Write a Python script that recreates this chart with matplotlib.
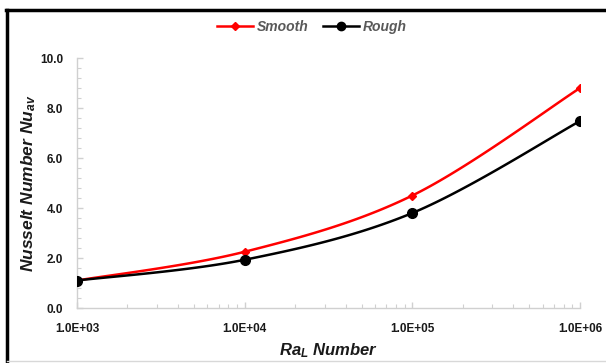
import numpy as np
import matplotlib
matplotlib.use("Agg")
import matplotlib.pyplot as plt
from matplotlib.lines import Line2D
from matplotlib.ticker import FixedLocator, NullFormatter, MultipleLocator

ra = [1e3, 1e4, 1e5, 1e6]
smooth = [1.10, 2.25, 4.50, 8.80]
rough = [1.10, 1.93, 3.80, 7.48]
xtick_labels = ["1.0E+03", "1.0E+04", "1.0E+05", "1.0E+06"]
yticks = [0, 2, 4, 6, 8, 10]

plt.rcParams['font.family'] = ['Liberation Sans', 'DejaVu Sans']
plt.rcParams['mathtext.fontset'] = 'custom'
plt.rcParams['mathtext.bfit'] = 'Liberation Sans:bold:italic'
plt.rcParams['mathtext.it'] = 'Liberation Sans:bold:italic'
plt.rcParams['mathtext.rm'] = 'Liberation Sans:bold:italic'


def smooth_curve(x, y, n=40):
    # Excel-like smoothed line: Catmull-Rom style Bezier in log-x space
    lx = np.log10(np.asarray(x, float))
    y = np.asarray(y, float)
    pts = np.column_stack([lx, y])
    out = []
    for i in range(len(pts) - 1):
        p0 = pts[i - 1] if i > 0 else pts[i]
        p1 = pts[i]
        p2 = pts[i + 1]
        p3 = pts[i + 2] if i + 2 < len(pts) else pts[i + 1]
        c1 = p1 + (p2 - p0) / 6.0
        c2 = p2 - (p3 - p1) / 6.0
        t = np.linspace(0, 1, n)[:, None]
        seg = ((1 - t) ** 3) * p1 + 3 * ((1 - t) ** 2) * t * c1 + 3 * (1 - t) * t ** 2 * c2 + t ** 3 * p2
        out.append(seg if i == 0 else seg[1:])
    out = np.vstack(out)
    return 10 ** out[:, 0], out[:, 1]


fig = plt.figure(figsize=(6.06, 3.63), dpi=100)
ax = fig.add_axes([0.127, 0.1515, 0.830, 0.6885])

axis_gray = '#d0d0d0'
xs, ys = smooth_curve(ra, smooth)
ax.plot(xs, ys, color='#ff0000', lw=1.8, zorder=3)
ax.plot(ra, smooth, linestyle='none', marker='D', ms=4.5, color='#ff0000', zorder=4)
xr, yr = smooth_curve(ra, rough)
ax.plot(xr, yr, color='#000000', lw=1.8, zorder=3)
ax.plot(ra, rough, linestyle='none', marker='o', ms=7, color='#000000', zorder=4)

ax.set_xscale('log')
ax.set_xlim(1e3, 1e6)
ax.set_ylim(0, 10)
ax.set_xticks(ra)
ax.set_xticklabels(xtick_labels)
ax.xaxis.set_minor_locator(FixedLocator([m * 10 ** e for e in range(3, 6) for m in range(2, 10)]))
ax.xaxis.set_minor_formatter(NullFormatter())
ax.set_yticks(yticks)
ax.set_yticklabels([f"{v:.1f}" for v in yticks])
ax.yaxis.set_minor_locator(MultipleLocator(0.4))

for s in ['top', 'right']:
    ax.spines[s].set_visible(False)
for s in ['left', 'bottom']:
    ax.spines[s].set_color(axis_gray)
    ax.spines[s].set_linewidth(1.0)

ax.tick_params(axis='both', which='both', direction='in', color=axis_gray)
ax.tick_params(axis='both', which='major', length=4, width=1)
ax.tick_params(axis='both', which='minor', length=3, width=0.8)
ax.tick_params(axis='x', which='major', labelsize=8.5, pad=11, labelcolor='#1a1a1a')
ax.tick_params(axis='y', which='major', labelsize=8.5, pad=10, labelcolor='#1a1a1a')
for lab in ax.get_xticklabels() + ax.get_yticklabels():
    lab.set_fontweight('bold')

ax.set_xlabel(r'Ra$_{L}$ Number', fontsize=12, fontweight='bold', fontstyle='italic',
              color='#1a1a1a', labelpad=4)
ax.set_ylabel(r'Nusselt Number Nu$_{av}$', fontsize=12.5, fontweight='bold', fontstyle='italic',
              color='#1a1a1a')
ax.yaxis.set_label_coords(-0.078, 0.5)

h1 = Line2D([], [], color='#ff0000', lw=1.8, marker='D', ms=4)
h2 = Line2D([], [], color='#000000', lw=1.8, marker='o', ms=6)
leg = fig.legend([h1, h2], ['Smooth', 'Rough'], loc='center', bbox_to_anchor=(0.515, 0.926), ncol=2,
                 frameon=False, handlelength=2.6, columnspacing=1.0, handletextpad=0.3,
                 prop={'weight': 'bold', 'style': 'italic', 'size': 10})
for t in leg.get_texts():
    t.set_color('#595959')

# outer frame (top and left thick black edges, faint bottom line)
fig.add_artist(Line2D([0.010, 1.0], [0.972, 0.972], transform=fig.transFigure, color='black', lw=2.5))
fig.add_artist(Line2D([0.012, 0.012], [0.0, 0.972], transform=fig.transFigure, color='black', lw=2.5))
fig.add_artist(Line2D([0.012, 1.0], [0.006, 0.006], transform=fig.transFigure, color='#d8d8d8', lw=1))

fig.savefig('out.png', dpi=100)
